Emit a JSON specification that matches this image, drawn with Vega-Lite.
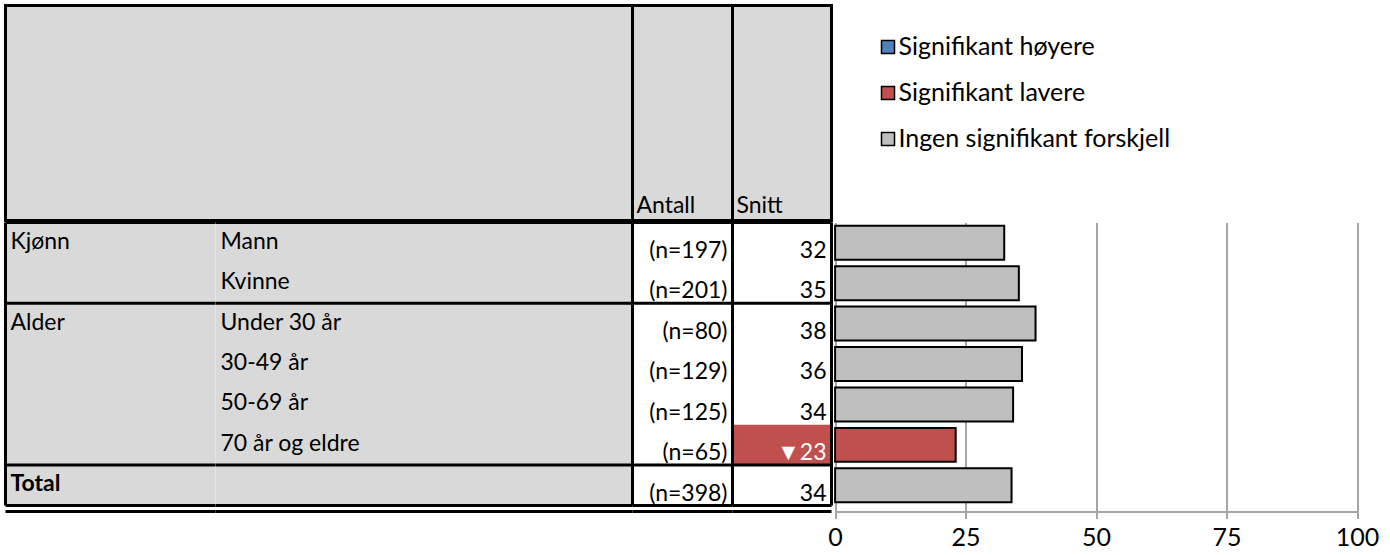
{
  "$schema": "https://vega.github.io/schema/vega-lite/v6.json",
  "padding": {"left": 3.5, "top": 3.5, "right": 0, "bottom": 0},
  "config": {
    "view": {"stroke": null},
    "font": "Lato",
    "text": {"font": "Lato", "fontSize": 23, "color": "black"}
  },
  "datasets": {
    "rows": [
      {"row": "Mann", "group": "Kjønn", "sub": "Mann", "first": true, "n": "(n=197)", "label": "32", "value": 32.4, "sig": "Ingen signifikant forskjell"},
      {"row": "Kvinne", "group": "", "sub": "Kvinne", "first": false, "n": "(n=201)", "label": "35", "value": 35.2, "sig": "Ingen signifikant forskjell"},
      {"row": "Under 30 år", "group": "Alder", "sub": "Under 30 år", "first": true, "n": "(n=80)", "label": "38", "value": 38.4, "sig": "Ingen signifikant forskjell"},
      {"row": "30-49 år", "group": "", "sub": "30-49 år", "first": false, "n": "(n=129)", "label": "36", "value": 35.8, "sig": "Ingen signifikant forskjell"},
      {"row": "50-69 år", "group": "", "sub": "50-69 år", "first": false, "n": "(n=125)", "label": "34", "value": 34.1, "sig": "Ingen signifikant forskjell"},
      {"row": "70 år og eldre", "group": "", "sub": "70 år og eldre", "first": false, "n": "(n=65)", "label": "▼23", "value": 23.1, "sig": "Signifikant lavere"},
      {"row": "Total", "group": "Total", "sub": "", "first": true, "n": "(n=398)", "label": "34", "value": 33.8, "sig": "Ingen signifikant forskjell"}
    ]
  },
  "spacing": -3,
  "vconcat": [
    {
      "spacing": 0,
      "bounds": "flush",
      "hconcat": [
        {
          "width": 627, "height": 215,
          "view": {"fill": "#d9d9d9", "stroke": "black", "strokeWidth": 3},
          "data": {"values": [{"t": ""}]},
          "mark": {"type": "text"},
          "encoding": {"text": {"field": "t"}}
        },
        {
          "width": 100, "height": 215,
          "view": {"fill": "#d9d9d9", "stroke": "black", "strokeWidth": 3},
          "data": {"values": [{"t": "Antall"}]},
          "mark": {"type": "text", "align": "left", "baseline": "alphabetic", "dx": 4, "dy": -8},
          "encoding": {
            "text": {"field": "t"},
            "x": {"datum": 0, "type": "quantitative", "scale": {"domain": [0, 1]}, "axis": null},
            "y": {"datum": 0, "type": "quantitative", "scale": {"domain": [0, 1]}, "axis": null}
          }
        },
        {
          "width": 99, "height": 215,
          "view": {"fill": "#d9d9d9", "stroke": "black", "strokeWidth": 3},
          "data": {"values": [{"t": "Snitt"}]},
          "mark": {"type": "text", "align": "left", "baseline": "alphabetic", "dx": 4, "dy": -8},
          "encoding": {
            "text": {"field": "t"},
            "x": {"datum": 0, "type": "quantitative", "scale": {"domain": [0, 1]}, "axis": null},
            "y": {"datum": 0, "type": "quantitative", "scale": {"domain": [0, 1]}, "axis": null}
          }
        }
      ]
    },
    {
      "spacing": 0,
      "bounds": "flush",
      "hconcat": [
        {
          "width": 210, "height": 283,
          "view": {"fill": "#d9d9d9"},
          "data": {"name": "rows"},
          "layer": [
            {"transform": [{"filter": "datum.first"}], "mark": {"type": "rule", "stroke": "black", "strokeWidth": 3}, "encoding": {"y": {"field": "row", "type": "nominal", "sort": ["Mann", "Kvinne", "Under 30 år", "30-49 år", "50-69 år", "70 år og eldre", "Total"], "axis": null, "scale": {"paddingInner": 0, "paddingOuter": 0}, "bandPosition": 0}}},
            {"transform": [{"filter": "datum.row === 'Total'"}], "mark": {"type": "rule", "stroke": "black", "strokeWidth": 3}, "encoding": {"y": {"field": "row", "type": "nominal", "sort": ["Mann", "Kvinne", "Under 30 år", "30-49 år", "50-69 år", "70 år og eldre", "Total"], "bandPosition": 1}}},
            {"transform": [{"filter": "datum.row === 'Total'"}], "mark": {"type": "rule", "stroke": "black", "strokeWidth": 3, "yOffset": 6}, "encoding": {"y": {"field": "row", "type": "nominal", "sort": ["Mann", "Kvinne", "Under 30 år", "30-49 år", "50-69 år", "70 år og eldre", "Total"], "bandPosition": 1}}},
            {"transform": [{"filter": "datum.row === 'Mann'"}], "mark": {"type": "rule", "stroke": "black", "strokeWidth": 3}, "encoding": {"x": {"datum": 0, "type": "quantitative", "scale": {"domain": [0, 1]}, "axis": null}}},
            {"transform": [{"filter": "datum.row !== 'Total'"}], "mark": {"type": "text", "align": "left", "baseline": "middle", "dx": 5, "dy": -1}, "encoding": {"text": {"field": "group"}, "x": {"datum": 0, "type": "quantitative", "scale": {"domain": [0, 1]}, "axis": null}, "y": {"field": "row", "type": "nominal", "sort": ["Mann", "Kvinne", "Under 30 år", "30-49 år", "50-69 år", "70 år og eldre", "Total"], "bandPosition": 0.5}}},
            {"transform": [{"filter": "datum.row === 'Total'"}], "mark": {"type": "text", "align": "left", "baseline": "middle", "dx": 5, "dy": -1, "fontWeight": "bold"}, "encoding": {"text": {"field": "group"}, "x": {"datum": 0, "type": "quantitative", "scale": {"domain": [0, 1]}, "axis": null}, "y": {"field": "row", "type": "nominal", "sort": ["Mann", "Kvinne", "Under 30 år", "30-49 år", "50-69 år", "70 år og eldre", "Total"], "bandPosition": 0.5}}}
          ]
        },
        {
          "width": 417, "height": 283,
          "view": {"fill": "#d9d9d9"},
          "data": {"name": "rows"},
          "layer": [
            {"transform": [{"filter": "datum.first"}], "mark": {"type": "rule", "stroke": "black", "strokeWidth": 3}, "encoding": {"y": {"field": "row", "type": "nominal", "sort": ["Mann", "Kvinne", "Under 30 år", "30-49 år", "50-69 år", "70 år og eldre", "Total"], "axis": null, "scale": {"paddingInner": 0, "paddingOuter": 0}, "bandPosition": 0}}},
            {"transform": [{"filter": "datum.row === 'Total'"}], "mark": {"type": "rule", "stroke": "black", "strokeWidth": 3}, "encoding": {"y": {"field": "row", "type": "nominal", "sort": ["Mann", "Kvinne", "Under 30 år", "30-49 år", "50-69 år", "70 år og eldre", "Total"], "bandPosition": 1}}},
            {"transform": [{"filter": "datum.row === 'Total'"}], "mark": {"type": "rule", "stroke": "black", "strokeWidth": 3, "yOffset": 6}, "encoding": {"y": {"field": "row", "type": "nominal", "sort": ["Mann", "Kvinne", "Under 30 år", "30-49 år", "50-69 år", "70 år og eldre", "Total"], "bandPosition": 1}}},
            {"mark": {"type": "text", "align": "left", "baseline": "middle", "dx": 5, "dy": -1}, "encoding": {"text": {"field": "sub"}, "x": {"datum": 0, "type": "quantitative", "scale": {"domain": [0, 1]}, "axis": null}, "y": {"field": "row", "type": "nominal", "sort": ["Mann", "Kvinne", "Under 30 år", "30-49 år", "50-69 år", "70 år og eldre", "Total"], "bandPosition": 0.5}}}
          ]
        },
        {
          "width": 100, "height": 283,
          "view": {"fill": "white"},
          "data": {"name": "rows"},
          "layer": [
            {"transform": [{"filter": "datum.first"}], "mark": {"type": "rule", "stroke": "black", "strokeWidth": 3}, "encoding": {"y": {"field": "row", "type": "nominal", "sort": ["Mann", "Kvinne", "Under 30 år", "30-49 år", "50-69 år", "70 år og eldre", "Total"], "axis": null, "scale": {"paddingInner": 0, "paddingOuter": 0}, "bandPosition": 0}}},
            {"transform": [{"filter": "datum.row === 'Total'"}], "mark": {"type": "rule", "stroke": "black", "strokeWidth": 3}, "encoding": {"y": {"field": "row", "type": "nominal", "sort": ["Mann", "Kvinne", "Under 30 år", "30-49 år", "50-69 år", "70 år og eldre", "Total"], "bandPosition": 1}}},
            {"transform": [{"filter": "datum.row === 'Total'"}], "mark": {"type": "rule", "stroke": "black", "strokeWidth": 3, "yOffset": 6}, "encoding": {"y": {"field": "row", "type": "nominal", "sort": ["Mann", "Kvinne", "Under 30 år", "30-49 år", "50-69 år", "70 år og eldre", "Total"], "bandPosition": 1}}},
            {"transform": [{"filter": "datum.row === 'Mann'"}], "mark": {"type": "rule", "stroke": "black", "strokeWidth": 3}, "encoding": {"x": {"datum": 0, "type": "quantitative", "scale": {"domain": [0, 1]}, "axis": null}}},
            {"transform": [{"filter": "datum.row === 'Mann'"}], "mark": {"type": "rule", "stroke": "black", "strokeWidth": 3}, "encoding": {"x": {"datum": 1, "type": "quantitative", "scale": {"domain": [0, 1]}, "axis": null}}},
            {"mark": {"type": "text", "align": "right", "baseline": "alphabetic", "dx": -5, "dy": -5}, "encoding": {"text": {"field": "n"}, "x": {"datum": 1, "type": "quantitative", "scale": {"domain": [0, 1]}, "axis": null}, "y": {"field": "row", "type": "nominal", "sort": ["Mann", "Kvinne", "Under 30 år", "30-49 år", "50-69 år", "70 år og eldre", "Total"], "bandPosition": 1}}}
          ]
        },
        {
          "width": 99, "height": 283,
          "view": {"fill": "white"},
          "data": {"name": "rows"},
          "layer": [
            {"transform": [{"filter": "datum.sig === 'Signifikant lavere'"}], "mark": {"type": "rect", "fill": "#c0504d"}, "encoding": {"x": {"datum": 0, "type": "quantitative", "scale": {"domain": [0, 1]}, "axis": null}, "x2": {"datum": 1}, "y": {"field": "row", "type": "nominal", "sort": ["Mann", "Kvinne", "Under 30 år", "30-49 år", "50-69 år", "70 år og eldre", "Total"], "axis": null, "scale": {"paddingInner": 0, "paddingOuter": 0}}}},
            {"transform": [{"filter": "datum.first"}], "mark": {"type": "rule", "stroke": "black", "strokeWidth": 3}, "encoding": {"y": {"field": "row", "type": "nominal", "sort": ["Mann", "Kvinne", "Under 30 år", "30-49 år", "50-69 år", "70 år og eldre", "Total"], "bandPosition": 0}}},
            {"transform": [{"filter": "datum.row === 'Total'"}], "mark": {"type": "rule", "stroke": "black", "strokeWidth": 3}, "encoding": {"y": {"field": "row", "type": "nominal", "sort": ["Mann", "Kvinne", "Under 30 år", "30-49 år", "50-69 år", "70 år og eldre", "Total"], "bandPosition": 1}}},
            {"transform": [{"filter": "datum.row === 'Total'"}], "mark": {"type": "rule", "stroke": "black", "strokeWidth": 3, "yOffset": 6}, "encoding": {"y": {"field": "row", "type": "nominal", "sort": ["Mann", "Kvinne", "Under 30 år", "30-49 år", "50-69 år", "70 år og eldre", "Total"], "bandPosition": 1}}},
            {"transform": [{"filter": "datum.row === 'Mann'"}], "mark": {"type": "rule", "stroke": "black", "strokeWidth": 3}, "encoding": {"x": {"datum": 0, "type": "quantitative", "scale": {"domain": [0, 1]}, "axis": null}}},
            {"transform": [{"filter": "datum.row === 'Mann'"}], "mark": {"type": "rule", "stroke": "black", "strokeWidth": 3}, "encoding": {"x": {"datum": 1, "type": "quantitative", "scale": {"domain": [0, 1]}, "axis": null}}},
            {"mark": {"type": "text", "align": "right", "baseline": "alphabetic", "dx": -5, "dy": -5}, "encoding": {"text": {"field": "label"}, "color": {"condition": {"test": "datum.sig === 'Signifikant lavere'", "value": "white"}, "value": "black"}, "x": {"datum": 1, "type": "quantitative", "scale": {"domain": [0, 1]}, "axis": null}, "y": {"field": "row", "type": "nominal", "sort": ["Mann", "Kvinne", "Under 30 år", "30-49 år", "50-69 år", "70 år og eldre", "Total"], "bandPosition": 1}}}
          ]
        },
        {
          "width": 526, "height": 289,
          "data": {"name": "rows"},
          "mark": {"type": "bar", "stroke": "black", "strokeWidth": 2},
          "encoding": {
            "y": {"field": "row", "type": "nominal", "sort": ["Mann", "Kvinne", "Under 30 år", "30-49 år", "50-69 år", "70 år og eldre", "Total"], "axis": null, "scale": {"paddingInner": 0.16, "paddingOuter": 0.154, "align": 0.26}},
            "x": {
              "field": "value", "type": "quantitative",
              "scale": {"domain": [0, 100], "range": [3.6, 525.6]},
              "axis": {
                "values": [0, 25, 50, 75, 100], "title": null,
                "grid": true, "gridColor": "#a6a6a6", "gridWidth": 2,
                "domainColor": "#a6a6a6", "domainWidth": 2,
                "tickColor": "#a6a6a6", "tickWidth": 2, "tickSize": 7,
                "labelFontSize": 25, "labelColor": "black", "labelFont": "Lato",
                "labelPadding": 7, "labelFlush": false
              }
            },
            "color": {
              "field": "sig", "type": "nominal",
              "scale": {
                "domain": ["Signifikant høyere", "Signifikant lavere", "Ingen signifikant forskjell"],
                "range": ["#4f81bd", "#c0504d", "#bfbfbf"]
              },
              "legend": {
                "orient": "none", "legendX": 870, "legendY": 29,
                "title": null, "symbolType": "square", "symbolSize": 169,
                "symbolStrokeColor": "black", "symbolStrokeWidth": 1.5, "symbolOpacity": 1,
                "labelFontSize": 25, "labelFont": "Lato", "labelColor": "black",
                "labelOffset": -2, "rowPadding": 20, "labelLimit": 400
              }
            }
          }
        }
      ]
    }
  ]
}
